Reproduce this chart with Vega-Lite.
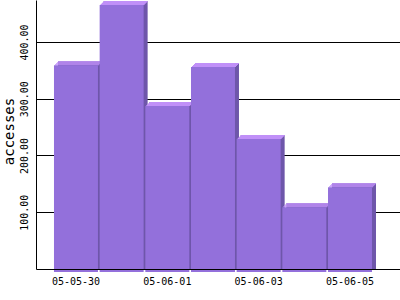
{
  "$schema": "https://vega.github.io/schema/vega-lite/v6.json",
  "autosize": "none",
  "width": 364,
  "height": 269,
  "padding": {"left": 36, "top": 0, "right": 0, "bottom": 31},
  "background": "white",
  "config": {"view": {"stroke": null}},
  "data": {"values": [
    {"date": "05-05-30", "accesses": 359},
    {"date": "05-05-31", "accesses": 465},
    {"date": "05-06-01", "accesses": 287},
    {"date": "05-06-02", "accesses": 356},
    {"date": "05-06-03", "accesses": 229},
    {"date": "05-06-04", "accesses": 109},
    {"date": "05-06-05", "accesses": 144}
  ]},
  "encoding": {
    "x": {
      "field": "date", "type": "ordinal", "sort": null,
      "scale": {"type": "band", "paddingInner": 0.037, "paddingOuter": 0.5035, "align": 0.391},
      "axis": {
        "title": null, "values": ["05-05-30", "05-06-01", "05-06-03", "05-06-05"],
        "labelAngle": 0, "labelFont": "DejaVu Sans Mono", "labelFontSize": 10, "labelColor": "black",
        "labelPadding": 7, "ticks": false, "tickSize": 0, "domainColor": "black", "domainWidth": 1,
        "grid": false, "zindex": 1
      }
    }
  },
  "layer": [
    {
      "mark": {"type": "bar", "color": "#6E56AA", "xOffset": 4, "yOffset": -4, "y2Offset": 0},
      "encoding": {
        "y": {
          "field": "accesses", "type": "quantitative",
          "scale": {"domain": [0, 474], "nice": false},
          "axis": {
            "title": "accesses", "values": [100, 200, 300, 400], "format": ".2f",
            "labelAngle": 270, "labelAlign": "center", "labelBaseline": "alphabetic",
            "labelFont": "DejaVu Sans Mono", "labelFontSize": 10, "labelColor": "black", "labelPadding": 9,
            "ticks": false, "tickSize": 0, "domainColor": "black", "domainWidth": 1,
            "grid": true, "gridColor": "black", "gridWidth": 1, "gridOpacity": 1,
            "titleFont": "DejaVu Sans Mono", "titleFontSize": 14, "titleFontWeight": "normal", "titleColor": "black",
            "titleAngle": 270, "titleAlign": "center", "titleBaseline": "alphabetic", "titleX": -23, "titleY": 131
          }
        },
        "y2": {"datum": 0}
      }
    },
    {
      "mark": {"type": "bar", "color": "#C090F8", "xOffset": 1, "yOffset": -1, "y2Offset": 0},
      "encoding": {"y": {"field": "accesses", "type": "quantitative"}, "y2": {"field": "accesses"}}
    },
    {
      "mark": {"type": "bar", "color": "#C090F8", "xOffset": 2, "yOffset": -2, "y2Offset": -1},
      "encoding": {"y": {"field": "accesses", "type": "quantitative"}, "y2": {"field": "accesses"}}
    },
    {
      "mark": {"type": "bar", "color": "#C090F8", "xOffset": 3, "yOffset": -3, "y2Offset": -2},
      "encoding": {"y": {"field": "accesses", "type": "quantitative"}, "y2": {"field": "accesses"}}
    },
    {
      "mark": {"type": "bar", "color": "#C090F8", "xOffset": 4, "yOffset": -4, "y2Offset": -3},
      "encoding": {"y": {"field": "accesses", "type": "quantitative"}, "y2": {"field": "accesses"}}
    },
    {
      "mark": {"type": "bar", "color": "#9370DB", "y2Offset": 3},
      "encoding": {"y": {"field": "accesses", "type": "quantitative"}, "y2": {"datum": 0}}
    }
  ]
}
